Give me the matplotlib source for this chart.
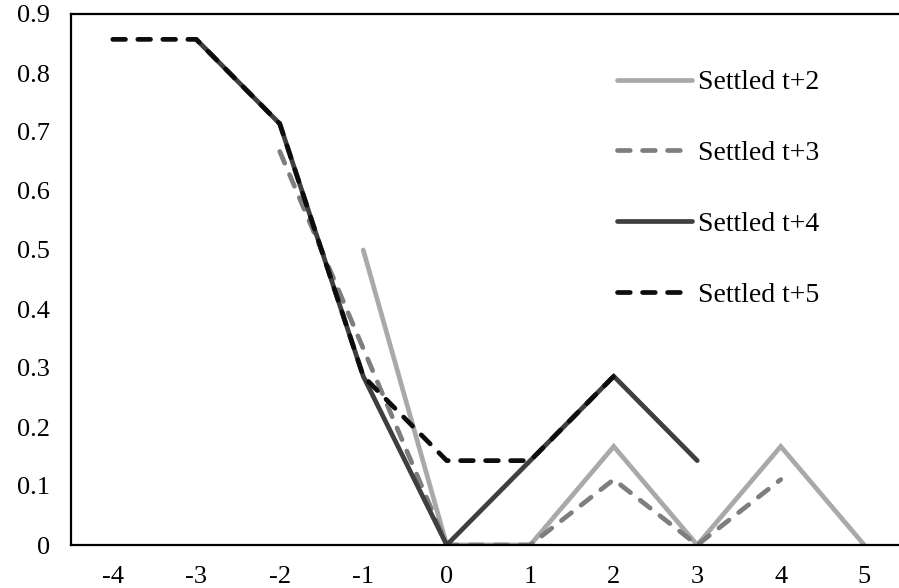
import numpy as np
import matplotlib
matplotlib.use("Agg")
import matplotlib.pyplot as plt

# === DATA ===

periods = ["-4", "-3", "-2", "-1", "0", "1", "2", "3", "4", "5"]
nan = np.nan
settled_t2 = [nan, nan, nan, 0.5, 0.0, 0.0, 0.167, 0.0, 0.167, 0.0]
settled_t3 = [nan, nan, 0.667, 0.333, 0.0, 0.0, 0.111, 0.0, 0.111, nan]
settled_t4 = [nan, 0.857, 0.714, 0.286, 0.0, 0.143, 0.286, 0.143, nan, nan]
settled_t5 = [0.857, 0.857, 0.714, 0.286, 0.143, 0.143, 0.286, nan, nan, nan]

series = [
    ("Settled t+2", settled_t2, "#aba8a8", "-"),
    ("Settled t+3", settled_t3, "#7f7d7d", "--"),
    ("Settled t+4", settled_t4, "#3f3f3f", "-"),
    ("Settled t+5", settled_t5, "#0d0d0d", "--"),
]

plt.rcParams["font.family"] = ["Liberation Serif", "DejaVu Serif"]

fig = plt.figure(figsize=(8.99, 5.88), dpi=100)
ax = fig.add_axes([71 / 899, 43 / 588, 835 / 899, 531 / 588])

x = np.arange(len(periods))
for label, values, color, style in series:
    line, = ax.plot(x, values, color=color, linewidth=3.4, label=label,
                    solid_capstyle="round", dash_capstyle="round",
                    solid_joinstyle="miter")
    if style == "--":
        line.set_dashes((2.7, 2.6))

ax.set_xlim(-0.5, len(periods) - 0.5)
ax.set_ylim(0, 0.9)
ax.set_xticks(x)
ax.set_xticklabels(periods)
ax.set_yticks(np.arange(0, 0.91, 0.1))
ax.set_yticklabels(["0"] + [f"{v:.1f}" for v in np.arange(0.1, 0.91, 0.1)])
ax.tick_params(length=0, labelsize=19, pad=15)

for side in ("left", "top", "bottom"):
    ax.spines[side].set_linewidth(1.6)
    ax.spines[side].set_color("black")
ax.spines["right"].set_visible(False)

ax.legend(loc="upper left", bbox_to_anchor=(617 / 899, 1 - 70 / 588),
          bbox_transform=fig.transFigure, frameon=False, fontsize=20,
          handlelength=2.7, handletextpad=0.2, labelspacing=1.63,
          borderpad=0, borderaxespad=0)

fig.savefig("out.png", dpi=100)
